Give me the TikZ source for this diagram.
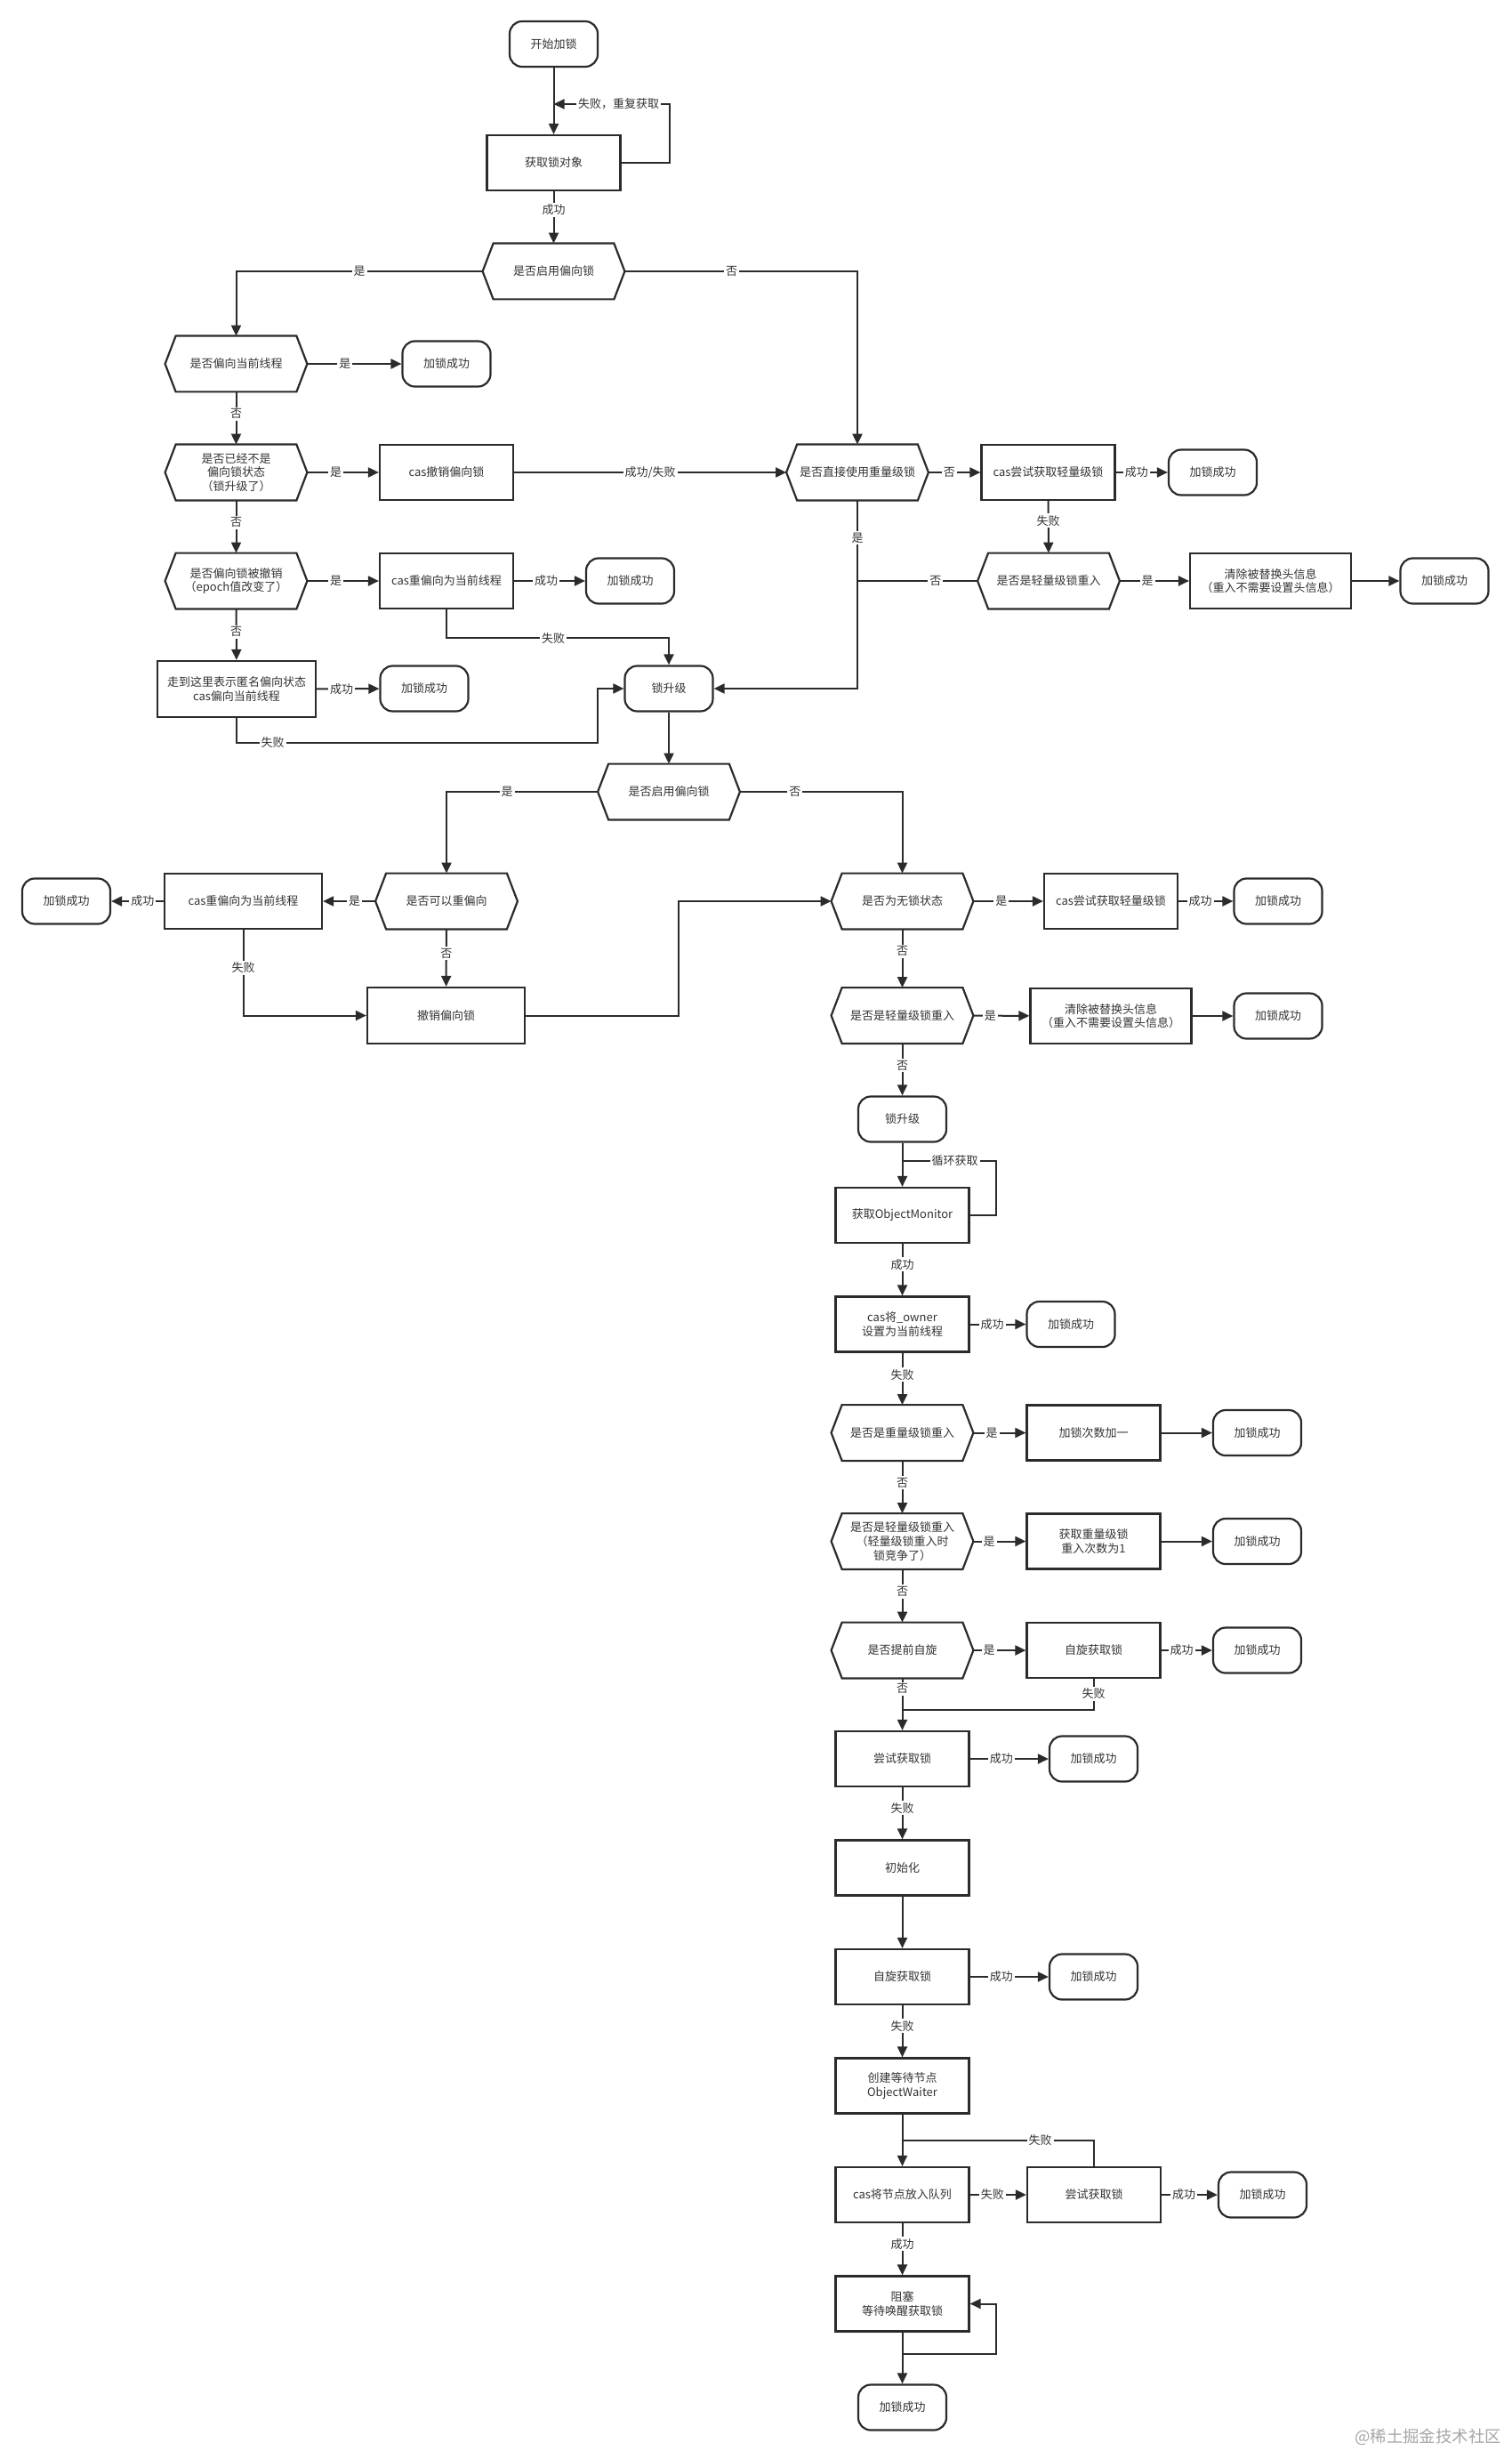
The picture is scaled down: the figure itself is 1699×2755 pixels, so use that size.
\documentclass[tikz,border=0pt]{standalone}
\usepackage{fontspec}
\setmainfont{Noto Sans CJK SC}
\usetikzlibrary{arrows.meta,calc}
\definecolor{lc}{HTML}{2B2B2B}
\definecolor{tc}{HTML}{333333}
\begin{document}
\begin{tikzpicture}[x=0.5pt,y=-0.5pt,
  every node/.style={text=tc, font=\fontsize{6.5pt}{7.9pt}\selectfont},
  box/.style={draw=lc, line width=1.1pt, rectangle, minimum width=75pt, minimum height=31pt, inner sep=1pt, align=center},
  term/.style={draw=lc, line width=1.1pt, rectangle, rounded corners=7pt, minimum width=49.5pt, minimum height=25.5pt, inner sep=1pt, align=center},
  hexline/.style={draw=lc, line width=1.1pt},
  hexa/.style={rectangle, minimum width=79.5pt, minimum height=31pt, inner sep=0pt, align=center,
    append after command={\pgfextra{\draw[hexline]
      ([xshift=6pt]\tikzlastnode.north west) -- ([xshift=-6pt]\tikzlastnode.north east) -- (\tikzlastnode.east) -- ([xshift=-6pt]\tikzlastnode.south east) -- ([xshift=6pt]\tikzlastnode.south west) -- (\tikzlastnode.west) -- cycle;}}},
  conn/.style={draw=lc, line width=1pt, -{Triangle[length=6pt,width=5.5pt]}},
  plain/.style={draw=lc, line width=1pt},
  lbl/.style={fill=white, inner sep=1pt, text=tc, font=\fontsize{6.5pt}{7.9pt}\selectfont}
]
\fill[white] (0,0) rectangle (1699,2755);
\useasboundingbox (0,0) rectangle (1699,2755);

% ---------- nodes ----------
\node[term] (start) at (622.5,49.5) {开始加锁};
\node[box] (getobj) at (622.5,183) {获取锁对象};
\node[hexa] (bias1) at (622.5,305) {是否启用偏向锁};
\node[hexa] (biascur) at (265.5,409) {是否偏向当前线程};
\node[term] (ok1) at (502,409) {加锁成功};
\node[hexa] (notbias) at (265.5,531) {是否已经不是\\偏向锁状态\\（锁升级了）};
\node[box] (casrev) at (502,531) {cas撤销偏向锁};
\node[hexa] (revoked) at (265.5,653) {是否偏向锁被撤销\\（epoch值改变了）};
\node[box] (rebias1) at (502,653) {cas重偏向为当前线程};
\node[term] (ok2) at (708.5,653) {加锁成功};
\node[box, minimum width=89pt, minimum height=31.5pt] (anon) at (266,774.5) {走到这里表示匿名偏向状态\\cas偏向当前线程};
\node[term] (ok3) at (477,774) {加锁成功};
\node[term] (up1) at (752,774) {锁升级};
\node[hexa] (heavy) at (964,531) {是否直接使用重量级锁};
\node[box] (light1) at (1178.5,531) {cas尝试获取轻量级锁};
\node[term] (ok4) at (1363.5,531) {加锁成功};
\node[hexa] (lre1) at (1179,653) {是否是轻量级锁重入};
\node[box, minimum width=90.5pt] (clear1) at (1428.5,653) {清除被替换头信息\\（重入不需要设置头信息）};
\node[term] (ok5) at (1624,653) {加锁成功};
\node[hexa] (bias2) at (752,890) {是否启用偏向锁};
\node[hexa] (canre) at (502,1013) {是否可以重偏向};
\node[box, minimum width=88.5pt] (rebias2) at (273.5,1013) {cas重偏向为当前线程};
\node[term] (ok6) at (74.5,1013) {加锁成功};
\node[box, minimum width=88.5pt, minimum height=31.5pt] (revoke) at (501.5,1141.5) {撤销偏向锁};
\node[hexa] (nolock) at (1014.5,1013) {是否为无锁状态};
\node[box] (light2) at (1249,1013) {cas尝试获取轻量级锁};
\node[term] (ok7) at (1437,1013) {加锁成功};
\node[hexa] (lre2) at (1014.5,1141.5) {是否是轻量级锁重入};
\node[box, minimum width=90.5pt] (clear2) at (1249,1142) {清除被替换头信息\\（重入不需要设置头信息）};
\node[term] (ok8) at (1437,1142) {加锁成功};
\node[term] (up2) at (1014.5,1258) {锁升级};
\node[box] (getmon) at (1014.5,1366) {获取ObjectMonitor};
\node[box] (owner) at (1014.5,1488.5) {cas将\_owner\\设置为当前线程};
\node[term] (ok9) at (1204,1488.5) {加锁成功};
\node[hexa] (hre) at (1014.5,1610.5) {是否是重量级锁重入};
\node[box] (inc) at (1229.5,1610.5) {加锁次数加一};
\node[term] (ok10) at (1413.5,1610.5) {加锁成功};
\node[hexa] (lre3) at (1014.5,1732.5) {是否是轻量级锁重入\\（轻量级锁重入时\\锁竞争了）};
\node[box] (gheavy) at (1229.5,1732.5) {获取重量级锁\\重入次数为1};
\node[term] (ok11) at (1413.5,1732.5) {加锁成功};
\node[hexa] (spinq) at (1014.5,1855) {是否提前自旋};
\node[box] (spin1) at (1229.5,1855) {自旋获取锁};
\node[term] (ok12) at (1413.5,1855) {加锁成功};
\node[box] (try1) at (1014.5,1977) {尝试获取锁};
\node[term] (ok13) at (1229.5,1977) {加锁成功};
\node[box] (init) at (1014.5,2099.5) {初始化};
\node[box] (spin2) at (1014.5,2222) {自旋获取锁};
\node[term] (ok14) at (1229.5,2222) {加锁成功};
\node[box] (waiter) at (1014.5,2344.5) {创建等待节点\\ObjectWaiter};
\node[box] (enq) at (1014.5,2467) {cas将节点放入队列};
\node[box] (try2) at (1230,2467) {尝试获取锁};
\node[term] (ok15) at (1419.5,2467) {加锁成功};
\node[box] (block) at (1014.5,2589.5) {阻塞\\等待唤醒获取锁};
\node[term] (ok16) at (1014.5,2706) {加锁成功};

\node[text=black!35, font=\fontsize{9.2pt}{10pt}\selectfont, anchor=east] (wm) at (1695,2739) {@稀土掘金技术社区};

% ---------- junction coordinates ----------
\coordinate (j0) at (622.5,117);
\coordinate (j1) at (1014.5,1305);
\coordinate (j2) at (1014.5,1922);
\coordinate (j3) at (1014.5,2406);
\coordinate (j4) at (1014.5,2646);
\coordinate (j5) at (964,653);

% ---------- connectors ----------
\draw[conn] (start) -- (getobj);
\draw[conn] (getobj.east) -- ++(54.5,0) |- node[lbl,pos=0.72]{失败，重复获取} (j0);
\draw[conn] (getobj) -- node[lbl,pos=0.35]{成功} (bias1);
\draw[conn] (bias1.west) -| node[lbl,pos=0.25]{是} (biascur.north);
\draw[conn] (bias1.east) -| node[lbl,pos=0.23]{否} (heavy.north);
\draw[conn] (biascur) -- node[lbl,pos=0.4]{是} (ok1);
\draw[conn] (biascur) -- node[lbl,pos=0.42]{否} (notbias);
\draw[conn] (notbias) -- node[lbl,pos=0.4]{是} (casrev);
\draw[conn] (casrev) -- node[lbl]{成功/失败} (heavy);
\draw[conn] (notbias) -- node[lbl,pos=0.42]{否} (revoked);
\draw[conn] (revoked) -- node[lbl,pos=0.4]{是} (rebias1);
\draw[conn] (rebias1) -- node[lbl,pos=0.45]{成功} (ok2);
\draw[conn] (rebias1.south) -- ++(0,32) -| node[lbl,pos=0.24]{失败} (up1.north);
\draw[conn] (revoked) -- node[lbl,pos=0.45]{否} (anon);
\draw[conn] (anon) -- node[lbl,pos=0.4]{成功} (ok3);
\draw[conn] (anon.south) |- node[lbl,pos=0.55]{失败} (672,835) |- (up1.west);
\draw[conn] (heavy.south) |- node[lbl,pos=0.1]{是} (up1.east);
\draw[conn] (heavy) -- node[lbl,pos=0.4]{否} (light1);
\draw[conn] (light1) -- node[lbl,pos=0.4]{成功} (ok4);
\draw[conn] (light1) -- node[lbl,pos=0.38]{失败} (lre1);
\draw[conn] (lre1) -- node[lbl,pos=0.4]{是} (clear1);
\draw[conn] (clear1) -- (ok5);
\draw[plain] (lre1.west) -- node[lbl,pos=0.35]{否} (j5);
\draw[conn] (up1) -- (bias2);
\draw[conn] (bias2.west) -| node[lbl,pos=0.3]{是} (canre.north);
\draw[conn] (bias2.east) -| node[lbl,pos=0.17]{否} (nolock.north);
\draw[conn] (canre) -- node[lbl,pos=0.4]{是} (rebias2);
\draw[conn] (rebias2) -- node[lbl,pos=0.4]{成功} (ok6);
\draw[conn] (rebias2.south) |- node[lbl,pos=0.22]{失败} (revoke.west);
\draw[conn] (canre) -- node[lbl,pos=0.42]{否} (revoke);
\draw[conn] (revoke.east) -- ++(172,0) |- (nolock.west);
\draw[conn] (nolock) -- node[lbl,pos=0.4]{是} (light2);
\draw[conn] (light2) -- node[lbl,pos=0.4]{成功} (ok7);
\draw[conn] (nolock) -- node[lbl,pos=0.38]{否} (lre2);
\draw[conn] (lre2) -- node[lbl,pos=0.3]{是} (clear2);
\draw[conn] (clear2) -- (ok8);
\draw[conn] (lre2) -- node[lbl,pos=0.42]{否} (up2);
\draw[conn] (up2) -- (getmon);
\draw[plain] (getmon.east) -- ++(29.6,0) |- node[lbl,pos=0.72]{循环获取} (j1);
\draw[conn] (getmon) -- node[lbl,pos=0.4]{成功} (owner);
\draw[conn] (owner) -- node[lbl,pos=0.4]{成功} (ok9);
\draw[conn] (owner) -- node[lbl,pos=0.42]{失败} (hre);
\draw[conn] (hre) -- node[lbl,pos=0.35]{是} (inc);
\draw[conn] (inc) -- (ok10);
\draw[conn] (hre) -- node[lbl,pos=0.42]{否} (lre3);
\draw[conn] (lre3) -- node[lbl,pos=0.3]{是} (gheavy);
\draw[conn] (gheavy) -- (ok11);
\draw[conn] (lre3) -- node[lbl,pos=0.42]{否} (spinq);
\draw[conn] (spinq) -- node[lbl,pos=0.3]{是} (spin1);
\draw[conn] (spin1) -- node[lbl,pos=0.4]{成功} (ok12);
\draw[conn] (spinq) -- node[lbl,pos=0.2]{否} (try1);
\draw[plain] (spin1.south) |- node[lbl,pos=0.24]{失败} (j2);
\draw[conn] (try1) -- node[lbl,pos=0.4]{成功} (ok13);
\draw[conn] (try1) -- node[lbl,pos=0.4]{失败} (init);
\draw[conn] (init) -- (spin2);
\draw[conn] (spin2) -- node[lbl,pos=0.4]{成功} (ok14);
\draw[conn] (spin2) -- node[lbl,pos=0.4]{失败} (waiter);
\draw[conn] (waiter) -- (enq);
\draw[plain] (try2.north) |- node[lbl,pos=0.64]{失败} (j3);
\draw[conn] (enq) -- node[lbl,pos=0.4]{失败} (try2);
\draw[conn] (try2) -- node[lbl,pos=0.4]{成功} (ok15);
\draw[conn] (enq) -- node[lbl,pos=0.4]{成功} (block);
\draw[conn] (j4) -- ++(105,0) |- (block.east);
\draw[conn] (block) -- (ok16);
\end{tikzpicture}
\end{document}
